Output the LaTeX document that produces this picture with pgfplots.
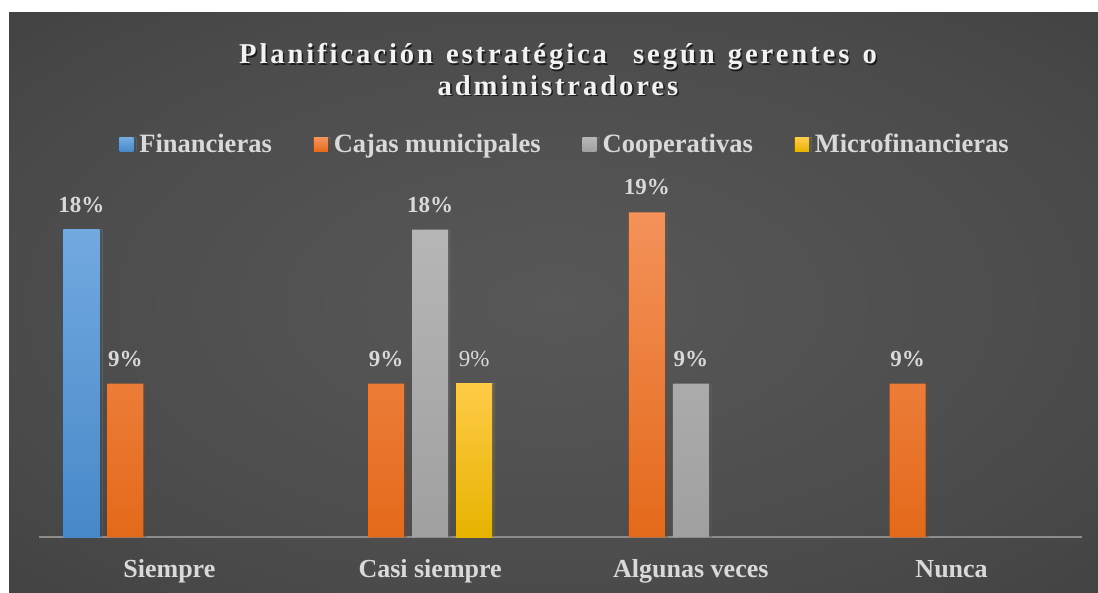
\documentclass[border=0pt]{standalone}
\usepackage{pgfplots}
\pgfplotsset{compat=1.18}
\usepackage{fontspec}
\setmainfont{Liberation Serif}
\newfontfamily\titlefont[LetterSpace=10, WordSpace=1.3]{Liberation Serif}
\definecolor{lbl}{HTML}{D9D9D9}
\definecolor{ttl}{HTML}{F2F2F2}
\definecolor{shd}{HTML}{1C1C1C}
\definecolor{axc}{HTML}{8C8C8C}
\definecolor{bgA}{HTML}{585858}
\definecolor{bgB}{HTML}{4B4B4B}
\definecolor{bgC}{HTML}{3F3F3F}
\definecolor{bgD}{HTML}{2F2F2F}
\definecolor{bgE}{HTML}{262626}
\definecolor{blueT}{HTML}{72A9DF}
\definecolor{blueB}{HTML}{4788C8}
\definecolor{oraT}{HTML}{F4925A}
\definecolor{oraB}{HTML}{E4691A}
\definecolor{gryT}{HTML}{B6B6B6}
\definecolor{gryB}{HTML}{A0A0A0}
\definecolor{yelT}{HTML}{FFCB47}
\definecolor{yelB}{HTML}{E6B300}
\pgfdeclareradialshading{bgshade}{\pgfpoint{0bp}{0bp}}{color(0bp)=(bgA); color(25bp)=(bgB); color(40bp)=(bgC); color(57bp)=(bgD); color(71bp)=(bgE)}
\newcommand\sh[1]{\leavevmode\rlap{\kern1.6pt\raisebox{-1.6pt}{\color{shd}#1}}#1}
\begin{document}
\begin{tikzpicture}[x=1pt,y=1pt]
\fill[white] (0,0) rectangle (1098,593);
\shade[shading=bgshade] (9,0) rectangle (1098,580);
\begin{axis}[
  at={(39pt,55.5pt)}, anchor=south west,
  scale only axis, width=1043pt, height=347.5pt,
  xmin=-0.5, xmax=3.5, ymin=0, ymax=20.31,
  axis x line*=bottom, axis y line=none,
  x axis line style={draw=axc, line width=2pt, -},
  xtick={0,1,2,3},
  xticklabels={Siempre, Casi siempre, Algunas veces, Nunca},
  major tick length=0pt,
  xticklabel style={anchor=base, yshift=-40.5pt, font=\fontsize{26}{30}\selectfont\bfseries, text=lbl},
  ytick=\empty,
  ybar, bar width=36pt,
  nodes near coords={\pgfmathprintnumber[assume math mode=true, fixed, precision=0]{\pgfplotspointmeta}\%},
  every node near coord/.append style={font=\fontsize{23}{27}\selectfont\bfseries, text=lbl, inner sep=0pt, anchor=south, yshift=17pt},
  title={\sh{Planificación estratégica\ \ según gerentes o}\\\sh{administradores}},
  title style={at={(0.4976,1.4044)}, anchor=north, inner sep=0pt, align=center, font=\titlefont\fontsize{28.7}{31.5}\selectfont\bfseries, text=ttl},
  legend style={draw=none, fill=none, at={(0.5043,1.1324)}, anchor=center, legend columns=4, font=\fontsize{26.5}{30}\selectfont\bfseries, text=lbl, /tikz/every even column/.append style={column sep=40pt}},
  legend cell align=left,
]
\addplot[draw=none, top color=blueT, bottom color=blueB, bar shift=-88pt,
  preaction={fill=black, fill opacity=0.25, transform canvas={xshift=3pt}},
  legend image code/.code={\fill[top color=blueT, bottom color=blueB] (0pt,-8pt) rectangle (14pt,6pt); \path (18pt,0pt);}]
  coordinates {(0,18)};
\addlegendentry{Financieras}
\addplot[draw=none, top color=oraT, bottom color=oraB, bar shift=-44pt,
  preaction={fill=black, fill opacity=0.25, transform canvas={xshift=3pt}},
  legend image code/.code={\fill[top color=oraT, bottom color=oraB] (0pt,-8pt) rectangle (14pt,6pt); \path (18pt,0pt);}]
  coordinates {(0,9) (1,9) (2,19) (3,9)};
\addlegendentry{Cajas municipales}
\addplot[draw=none, top color=gryT, bottom color=gryB, bar shift=0pt,
  preaction={fill=black, fill opacity=0.25, transform canvas={xshift=3pt}},
  legend image code/.code={\fill[top color=gryT, bottom color=gryB] (0pt,-8pt) rectangle (14pt,6pt); \path (18pt,0pt);}]
  coordinates {(1,18) (2,9)};
\addlegendentry{Cooperativas}
\addplot[draw=none, top color=yelT, bottom color=yelB, bar shift=44pt,
  preaction={fill=black, fill opacity=0.25, transform canvas={xshift=3pt}},
  every node near coord/.append style={font=\fontsize{23}{27}\selectfont\mdseries},
  legend image code/.code={\fill[top color=yelT, bottom color=yelB] (0pt,-8pt) rectangle (14pt,6pt); \path (18pt,0pt);}]
  coordinates {(1,9)};
\addlegendentry{Microfinancieras}
\end{axis}
\end{tikzpicture}
\end{document}
